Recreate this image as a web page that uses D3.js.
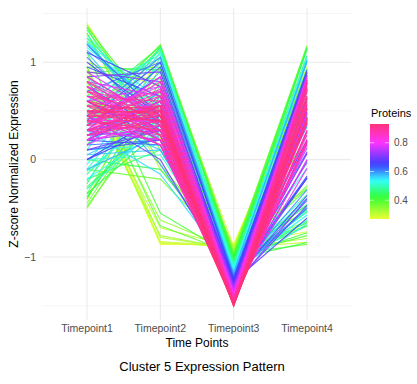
<!DOCTYPE html>
<html>
<head>
<meta charset="utf-8">
<script src="https://cdn.jsdelivr.net/npm/d3@7"></script>
<style>
  body { margin: 0; background: #fff; }
  text { font-family: "Liberation Sans", Arial, sans-serif; }
</style>
</head>
<body>
<svg id="chart" width="417" height="384"></svg>
<script>
// chart data
const timepoints = ["Timepoint1", "Timepoint2", "Timepoint3", "Timepoint4"];
const yTicks = [-1, 0, 1];
const legendTicks = [0.4, 0.6, 0.8];

// one entry per protein (same index in every array)
const membership = [
  0.27, 0.28, 0.28, 0.29, 0.29, 0.30, 0.31, 0.31, 0.32, 0.33, 0.34,
  0.35, 0.36, 0.36, 0.37, 0.37, 0.38, 0.38, 0.38, 0.39, 0.40, 0.40, 0.41, 0.41, 0.42, 0.42, 0.43, 0.44, 0.45, 0.45, 0.46,
  0.47, 0.48, 0.49, 0.50, 0.51, 0.51, 0.52, 0.53, 0.53, 0.54, 0.55, 0.55, 0.56, 0.57, 0.57, 0.58, 0.58,
  0.59, 0.60, 0.61, 0.61, 0.62, 0.63, 0.63, 0.64, 0.65, 0.66, 0.66, 0.67, 0.68, 0.69, 0.69, 0.70,
  0.71, 0.72, 0.73, 0.74, 0.75, 0.76, 0.76, 0.77, 0.78, 0.79, 0.80, 0.80, 0.81, 0.82, 0.82, 0.83, 0.84, 0.84,
  0.85, 0.85, 0.86, 0.86, 0.86, 0.87, 0.87, 0.88, 0.88, 0.88, 0.89, 0.89, 0.90, 0.90, 0.91, 0.91, 0.92, 0.92, 0.93, 0.93,
  0.93, 0.92, 0.92, 0.91, 0.91, 0.90, 0.90, 0.89, 0.89, 0.88, 0.87, 0.87, 0.86, 0.85, 0.84, 0.83, 0.82, 0.81, 0.80, 0.79,
  0.78, 0.77, 0.75, 0.74, 0.70, 0.68, 0.67, 0.65, 0.64, 0.62, 0.60, 0.58, 0.56, 0.55, 0.54, 0.52, 0.50, 0.44, 0.43, 0.41,
  0.39, 0.37, 0.30, 0.32,
  0.52, 0.62, 0.40, 0.56, 0.38, 0.50, 0.60, 0.39, 0.43, 0.46, 0.49, 0.53, 0.52, 0.57, 0.63, 0.66, 0.73, 0.76
];
const tp1 = [
  0.87, 1.40, 0.95, -0.42, 0.80, 1.00, 0.75, 1.30, 0.90, 0.70, 0.85,
  -0.50, 1.38, 0.40, -0.45, 0.45, 0.89, -0.35, 0.95, 1.30, 0.35, -0.30, 1.25, 1.10, 0.30, -0.40, 0.95, 0.55, -0.20, 1.33, -0.25,
  1.22, -0.15, 0.50, 0.00, 1.18, -0.10, 0.65, 0.85, 0.10, 1.15, -0.05, 0.35, 0.60, 0.05, 1.10, 0.20, 0.45,
  1.12, 0.15, 0.70, 0.25, 1.05, 0.30, 0.20, 0.95, 0.20, 0.75, 1.10, 0.35, 0.60, 0.25, 0.85, 0.50,
  0.90, 0.30, 0.65, 0.35, 0.85, 0.25, 0.60, 0.40, 0.80, 0.30, 0.65, 0.45, 0.35, 0.75, 0.40, 0.55, 0.70, 0.30,
  0.80, 0.35, 0.40, 0.70, 0.85, 0.30, 0.60, 0.45, 0.65, 0.25, 0.38, 0.55, 0.70, 0.42, 0.50, 0.60, 0.45, 0.55, 0.50, 0.48,
  0.45, 0.35, 0.60, 0.30, 0.40, 0.25, 0.55, 0.30, 0.65, 0.80, 0.35, 0.50, 0.20, 0.75, 0.25, 0.45, 0.30, 0.20, 0.75, 0.15,
  0.30, 0.90, 0.20, 0.45, 0.10, 0.45, 1.00, 0.00, 0.40, 0.15, 0.80, -0.10, 0.30, 1.20, -0.20, 0.10, 1.25, 0.00, -0.35, 0.15,
  1.35, -0.10, 0.80, 0.92,
  1.28, 1.18, 1.36, 1.20, 0.45, 0.35, 0.45, -0.48, -0.38, -0.28, -0.22, -0.12, -0.30, 0.05, 0.10, 0.00, 0.20, 0.30
];
const tp2 = [
  -0.87, 0.22, -0.86, 1.12, -0.84, 0.75, -0.70, -0.10, 0.82, -0.78, -0.62,
  0.66, 0.25, 1.18, 0.70, 0.30, 0.95, 0.95, -0.68, -0.05, 1.15, 0.45, 0.50, -0.55, 0.20, 0.80, 0.92, 1.16, 0.10, 0.35, 1.05,
  0.30, 0.60, 1.12, 0.05, 0.45, 0.85, 1.08, 0.20, 0.15, 0.55, 1.00, 0.60, 1.05, 0.40, 0.25, 0.90, 0.10,
  0.55, 0.70, 1.00, 0.30, 0.35, 0.95, 0.15, 0.65, 0.55, 0.30, 0.75, 0.85, 0.20, 0.60, 0.90, 0.40,
  0.80, 0.45, 0.30, 0.85, 0.40, 0.30, 0.75, 0.55, 0.65, 0.60, 0.35, 0.75, 0.30, 0.50, 0.40, 0.70, 0.30, 0.55,
  0.45, 0.70, 0.25, 0.55, 0.40, 0.40, 0.30, 0.72, 0.50, 0.40, 0.55, 0.38, 0.40, 0.65, 0.55, 0.45, 0.45, 0.52, 0.48, 0.50,
  0.40, 0.45, 0.25, 0.55, 0.30, 0.50, 0.20, 0.35, 0.60, 0.35, 0.80, 0.15, 0.60, 0.25, 0.40, 0.15, 0.85, 0.35, 0.20, 0.50,
  0.20, 0.45, 0.65, 0.15, 0.30, 0.00, 0.45, 0.45, 1.00, 0.20, -0.05, 0.25, -0.15, 0.60, 0.30, 1.10, 0.20, -0.10, 0.30, 1.15,
  0.10, -0.20, -0.85, -0.80,
  0.40, 0.45, 0.40, 0.35, 1.17, 1.14, 1.05, 0.55, 0.65, 0.40, 0.75, 0.50, 0.35, 0.10, 0.20, 0.35, 0.30, 0.20
];
const tp3 = [
  -0.87, -0.88, -0.88, -0.89, -0.89, -0.90, -0.90, -0.91, -0.91, -0.92, -0.93,
  -0.94, -0.95, -0.95, -0.96, -0.96, -0.97, -0.97, -0.97, -0.98, -0.98, -0.99, -1.00, -1.00, -1.00, -1.01, -1.02, -1.03, -1.04, -1.04, -1.05,
  -1.06, -1.07, -1.08, -1.09, -1.10, -1.10, -1.11, -1.12, -1.12, -1.13, -1.14, -1.14, -1.15, -1.16, -1.16, -1.17, -1.17,
  -1.18, -1.19, -1.20, -1.20, -1.21, -1.22, -1.22, -1.23, -1.24, -1.25, -1.25, -1.26, -1.27, -1.28, -1.28, -1.29,
  -1.30, -1.31, -1.32, -1.32, -1.33, -1.34, -1.34, -1.35, -1.36, -1.37, -1.38, -1.38, -1.39, -1.40, -1.40, -1.41, -1.41, -1.42,
  -1.42, -1.43, -1.43, -1.44, -1.43, -1.44, -1.45, -1.45, -1.45, -1.45, -1.46, -1.46, -1.47, -1.47, -1.48, -1.48, -1.49, -1.49, -1.50, -1.50,
  -1.50, -1.49, -1.49, -1.48, -1.48, -1.47, -1.47, -1.46, -1.46, -1.45, -1.44, -1.44, -1.43, -1.42, -1.41, -1.41, -1.40, -1.39, -1.38, -1.37,
  -1.36, -1.35, -1.33, -1.32, -1.29, -1.27, -1.26, -1.24, -1.23, -1.21, -1.19, -1.17, -1.15, -1.14, -1.13, -1.11, -1.09, -1.03, -1.02, -1.00,
  -0.98, -0.96, -0.90, -0.91,
  -1.11, -1.21, -0.98, -1.15, -0.97, -1.09, -1.19, -0.98, -1.02, -1.05, -1.08, -1.12, -1.11, -1.16, -1.22, -1.25, -1.32, -1.34
];
const tp4 = [
  0.87, -0.74, 0.79, 0.19, 0.93, -0.85, 0.85, -0.29, -0.81, 1.00, 0.70,
  0.78, -0.68, -0.63, 0.71, 1.17, -0.87, 0.37, 0.70, -0.27, -0.52, 0.84, -0.75, 0.45, 1.15, 0.61, -0.85, -0.68, 1.14, -0.64, 0.25,
  -0.46, 0.62, -0.54, 1.04, -0.53, 0.35, -0.62, 0.07, 0.87, -0.57, 0.19, 0.19, -0.50, 0.71, -0.19, 0.07, 0.62,
  -0.49, 0.34, -0.50, 0.65, -0.19, -0.03, 0.87, -0.37, 0.49, 0.20, -0.60, 0.06, 0.47, 0.43, -0.47, 0.39,
  -0.40, 0.56, 0.37, 0.12, 0.08, 0.79, -0.01, 0.40, -0.09, 0.47, 0.38, 0.18, 0.74, 0.15, 0.60, 0.16, 0.41, 0.57,
  0.17, 0.38, 0.78, 0.19, 0.18, 0.74, 0.55, 0.28, 0.30, 0.80, 0.53, 0.53, 0.37, 0.40, 0.43, 0.43, 0.59, 0.42, 0.52, 0.52,
  0.65, 0.69, 0.64, 0.63, 0.78, 0.72, 0.72, 0.81, 0.21, 0.30, 0.29, 0.79, 0.63, 0.42, 0.76, 0.81, 0.25, 0.84, 0.43, 0.72,
  0.86, 0.00, 0.48, 0.72, 0.89, 0.82, -0.19, 0.79, -0.17, 0.86, 0.44, 1.02, 1.00, -0.66, 1.03, -0.09, -0.36, 1.13, 1.07, -0.30,
  -0.47, 1.16, 0.95, 0.79,
  -0.57, -0.42, -0.78, -0.40, -0.65, -0.40, -0.31, 0.91, 0.75, 0.93, 0.55, 0.74, 1.06, 1.01, 0.92, 0.90, 0.82, 0.84
];

// low membership first so the core of the cluster is drawn on top
const proteins = membership
    .map((m, i) => ({ m: m, values: [tp1[i], tp2[i], tp3[i], tp4[i]] }))
    .sort((a, b) => a.m - b.m);

const svg = d3.select("#chart");
const pLeft = 43, pRight = 351, pTop = 8, pBottom = 320;

const x = d3.scalePoint().domain(timepoints).range([pLeft, pRight]).padding(0.6);
const y = d3.scaleLinear().domain([-1.646, 1.556]).range([pBottom, pTop]);

const color = d3.scaleLinear()
    .domain([0.27, 0.42, 0.54, 0.64, 0.80, 0.93])
    .range(["hsl(66,100%,60%)", "hsl(120,100%,60%)", "hsl(180,100%,60%)",
            "hsl(236,100%,62%)", "hsl(300,100%,60%)", "hsl(340,100%,60%)"])
    .interpolate(d3.interpolateHsl);

// grid
const grid = svg.append("g");
grid.selectAll(".minor")
    .data([-1.5, -0.5, 0.5, 1.5])
    .join("line")
    .attr("x1", pLeft).attr("x2", pRight)
    .attr("y1", d => y(d)).attr("y2", d => y(d))
    .attr("stroke", "#EFEFEF").attr("stroke-width", 0.6);
grid.selectAll(".major")
    .data(yTicks)
    .join("line")
    .attr("x1", pLeft).attr("x2", pRight)
    .attr("y1", d => y(d)).attr("y2", d => y(d))
    .attr("stroke", "#EBEBEB").attr("stroke-width", 1.1);
grid.selectAll(".vert")
    .data(timepoints)
    .join("line")
    .attr("x1", d => x(d)).attr("x2", d => x(d))
    .attr("y1", pTop).attr("y2", pBottom)
    .attr("stroke", "#EBEBEB").attr("stroke-width", 1.1);

// protein lines
const line = d3.line()
    .x((d, j) => x(timepoints[j]))
    .y(d => y(d));

svg.append("g")
    .selectAll("path")
    .data(proteins)
    .join("path")
    .attr("fill", "none")
    .attr("stroke", d => color(d.m))
    .attr("stroke-width", 1.15)
    .attr("stroke-opacity", 0.85)
    .attr("d", d => line(d.values));

// axes labels
svg.append("g")
    .selectAll("text")
    .data(yTicks)
    .join("text")
    .attr("x", 36)
    .attr("y", d => y(d) + 3.5)
    .attr("text-anchor", "end")
    .attr("font-size", 10.5)
    .attr("fill", "#4D4D4D")
    .text(d => d < 0 ? "\u2212" + Math.abs(d) : d);

svg.append("g")
    .selectAll("text")
    .data(timepoints)
    .join("text")
    .attr("x", d => x(d))
    .attr("y", 332)
    .attr("text-anchor", "middle")
    .attr("font-size", 10.5)
    .attr("fill", "#4D4D4D")
    .text(d => d);

svg.append("text")
    .attr("x", (pLeft + pRight) / 2)
    .attr("y", 347)
    .attr("text-anchor", "middle")
    .attr("font-size", 12)
    .text("Time Points");

svg.append("text")
    .attr("transform", `translate(17.5,${(pTop + pBottom) / 2}) rotate(-90)`)
    .attr("text-anchor", "middle")
    .attr("font-size", 12)
    .text("Z-score Normalized Expression");

svg.append("text")
    .attr("x", 202)
    .attr("y", 371)
    .attr("text-anchor", "middle")
    .attr("font-size", 13)
    .text("Cluster 5 Expression Pattern");

// legend
const mExtent = d3.extent(membership);
const ly = d3.scaleLinear().domain(mExtent).range([219, 124]);
const barX = 370, barW = 19;

const grad = svg.append("defs").append("linearGradient")
    .attr("id", "grad")
    .attr("x1", 0).attr("y1", 1).attr("x2", 0).attr("y2", 0);
grad.selectAll("stop")
    .data(d3.range(0, 1.001, 0.05))
    .join("stop")
    .attr("offset", d => d)
    .attr("stop-color", d => color(mExtent[0] + d * (mExtent[1] - mExtent[0])));

svg.append("text")
    .attr("x", barX + 1)
    .attr("y", 117)
    .attr("font-size", 11)
    .text("Proteins");

svg.append("rect")
    .attr("x", barX).attr("y", ly(mExtent[1]))
    .attr("width", barW).attr("height", ly(mExtent[0]) - ly(mExtent[1]))
    .attr("fill", "url(#grad)");

const lg = svg.append("g");
lg.selectAll(".tl")
    .data(legendTicks)
    .join("line")
    .attr("x1", barX).attr("x2", barX + 4)
    .attr("y1", d => ly(d)).attr("y2", d => ly(d))
    .attr("stroke", "#fff").attr("stroke-width", 0.8).attr("opacity", 0.8);
lg.selectAll(".tr")
    .data(legendTicks)
    .join("line")
    .attr("x1", barX + barW - 4).attr("x2", barX + barW)
    .attr("y1", d => ly(d)).attr("y2", d => ly(d))
    .attr("stroke", "#fff").attr("stroke-width", 0.8).attr("opacity", 0.8);
lg.selectAll("text")
    .data(legendTicks)
    .join("text")
    .attr("x", barX + barW + 5)
    .attr("y", d => ly(d) + 3.5)
    .attr("font-size", 10)
    .attr("fill", "#4D4D4D")
    .text(d => d.toFixed(1));
</script>
</body>
</html>
